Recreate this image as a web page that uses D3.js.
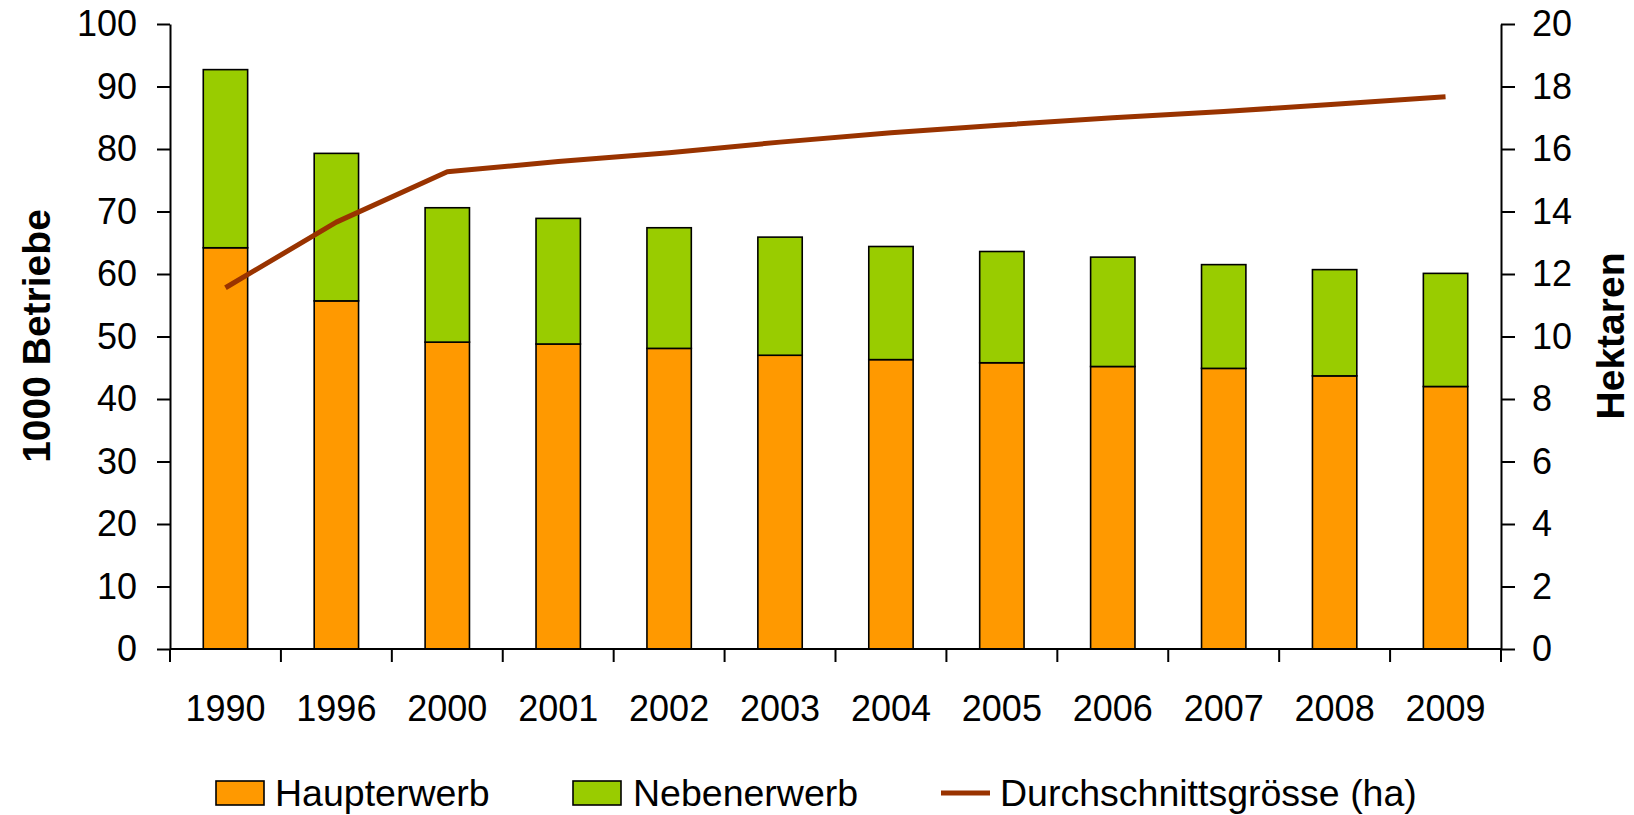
<!DOCTYPE html>
<html><head><meta charset="utf-8">
<script src="https://cdn.jsdelivr.net/npm/d3@7"></script>
<style>
body{margin:0;background:#fff;}
text{font-family:"Liberation Sans",Arial,sans-serif;fill:#000;}
</style></head>
<body>
<svg id="chart" width="1634" height="815"></svg>
<script>
const years = ["1990","1996","2000","2001","2002","2003","2004","2005","2006","2007","2008","2009"];
const haupterwerb = [64.2,55.7,49.1,48.8,48.1,47.0,46.3,45.8,45.2,44.9,43.7,42.0];
const nebenerwerb = [28.5,23.6,21.5,20.1,19.3,18.9,18.1,17.8,17.5,16.6,17.0,18.1];
const durchschnitt = [11.56,13.66,15.27,15.6,15.88,16.22,16.52,16.77,17.0,17.2,17.43,17.67];
const leftTicks = [0,10,20,30,40,50,60,70,80,90,100];
const rightTicks = [0,2,4,6,8,10,12,14,16,18,20];
const seriesNames = ["Haupterwerb","Nebenerwerb","Durchschnittsgrösse (ha)"];
const colors = {hw:"#FF9900", nw:"#99CC00", line:"#993300"};

const svg = d3.select("#chart");
const L = 170, R = 1501, T = 24, B = 649;

const x = d3.scaleBand().domain(years).range([L, R]).padding(0);
const yL = d3.scaleLinear().domain([0,100]).range([B, T]);
const yR = d3.scaleLinear().domain([0,20]).range([B, T]);
const bw = x.bandwidth()*0.4;

// bars
const g = svg.append("g");
years.forEach((yr,i)=>{
  const cx = x(yr) + x.bandwidth()/2;
  g.append("rect").attr("x", cx-bw/2).attr("y", yL(haupterwerb[i]))
    .attr("width", bw).attr("height", yL(0)-yL(haupterwerb[i]))
    .attr("fill", colors.hw).attr("stroke","#000").attr("stroke-width",1.6);
  g.append("rect").attr("x", cx-bw/2).attr("y", yL(haupterwerb[i]+nebenerwerb[i]))
    .attr("width", bw).attr("height", yL(haupterwerb[i])-yL(haupterwerb[i]+nebenerwerb[i]))
    .attr("fill", colors.nw).attr("stroke","#000").attr("stroke-width",1.6);
});

// line
const line = d3.line().x((d,i)=>x(years[i])+x.bandwidth()/2).y(d=>yR(d));
svg.append("path").datum(durchschnitt).attr("d", line)
  .attr("fill","none").attr("stroke",colors.line).attr("stroke-width",5).attr("stroke-linejoin","round");

// axes
const axisStyle = sel => {
  sel.select(".domain").attr("stroke","#000").attr("stroke-width",2);
  sel.selectAll(".tick line").attr("stroke","#000").attr("stroke-width",2);
  sel.selectAll("text").style("font-size","36px").style("font-family","'Liberation Sans',Arial,sans-serif").attr("fill","#000");
};
const axL = d3.axisLeft(yL).tickValues(leftTicks).tickSizeInner(13).tickSizeOuter(0).tickPadding(20);
svg.append("g").attr("transform",`translate(${L},0)`).call(axL).call(axisStyle);
const axR = d3.axisRight(yR).tickValues(rightTicks).tickSizeInner(14).tickSizeOuter(0).tickPadding(17);
svg.append("g").attr("transform",`translate(${R},0)`).call(axR).call(axisStyle);

// x axis: ticks at category boundaries
const xg = svg.append("g").attr("transform",`translate(0,${B})`);
xg.append("line").attr("x1",L).attr("x2",R).attr("stroke","#000").attr("stroke-width",2);
const bounds = years.map(y=>x(y)).concat([R]);
xg.selectAll("line.t").data(bounds).enter().append("line").attr("class","t")
  .attr("x1",d=>d).attr("x2",d=>d).attr("y1",0).attr("y2",13).attr("stroke","#000").attr("stroke-width",2);
xg.selectAll("text").data(years).enter().append("text")
  .attr("x",d=>x(d)+x.bandwidth()/2).attr("y",72).attr("text-anchor","middle")
  .style("font-size","36px").text(d=>d);

// axis titles
svg.append("text").attr("transform","translate(50,336) rotate(-90)").attr("text-anchor","middle")
  .style("font-size","39px").style("font-weight","bold").text("1000 Betriebe");
svg.append("text").attr("transform","translate(1624,336) rotate(-90)").attr("text-anchor","middle")
  .style("font-size","39px").style("font-weight","bold").text("Hektaren");

// legend
const lg = svg.append("g");
const ly = 793;
lg.append("rect").attr("x",216).attr("y",ly-12).attr("width",48).attr("height",24)
  .attr("fill",colors.hw).attr("stroke","#000").attr("stroke-width",1.6);
lg.append("text").attr("x",275).attr("y",ly+13).style("font-size","37.5px").text(seriesNames[0]);
lg.append("rect").attr("x",573).attr("y",ly-12).attr("width",48).attr("height",24)
  .attr("fill",colors.nw).attr("stroke","#000").attr("stroke-width",1.6);
lg.append("text").attr("x",633).attr("y",ly+13).style("font-size","37.5px").text(seriesNames[1]);
lg.append("line").attr("x1",941).attr("x2",990).attr("y1",ly).attr("y2",ly)
  .attr("stroke",colors.line).attr("stroke-width",5);
lg.append("text").attr("x",1000).attr("y",ly+13).style("font-size","37.5px").text(seriesNames[2]);
</script>
</body></html>
